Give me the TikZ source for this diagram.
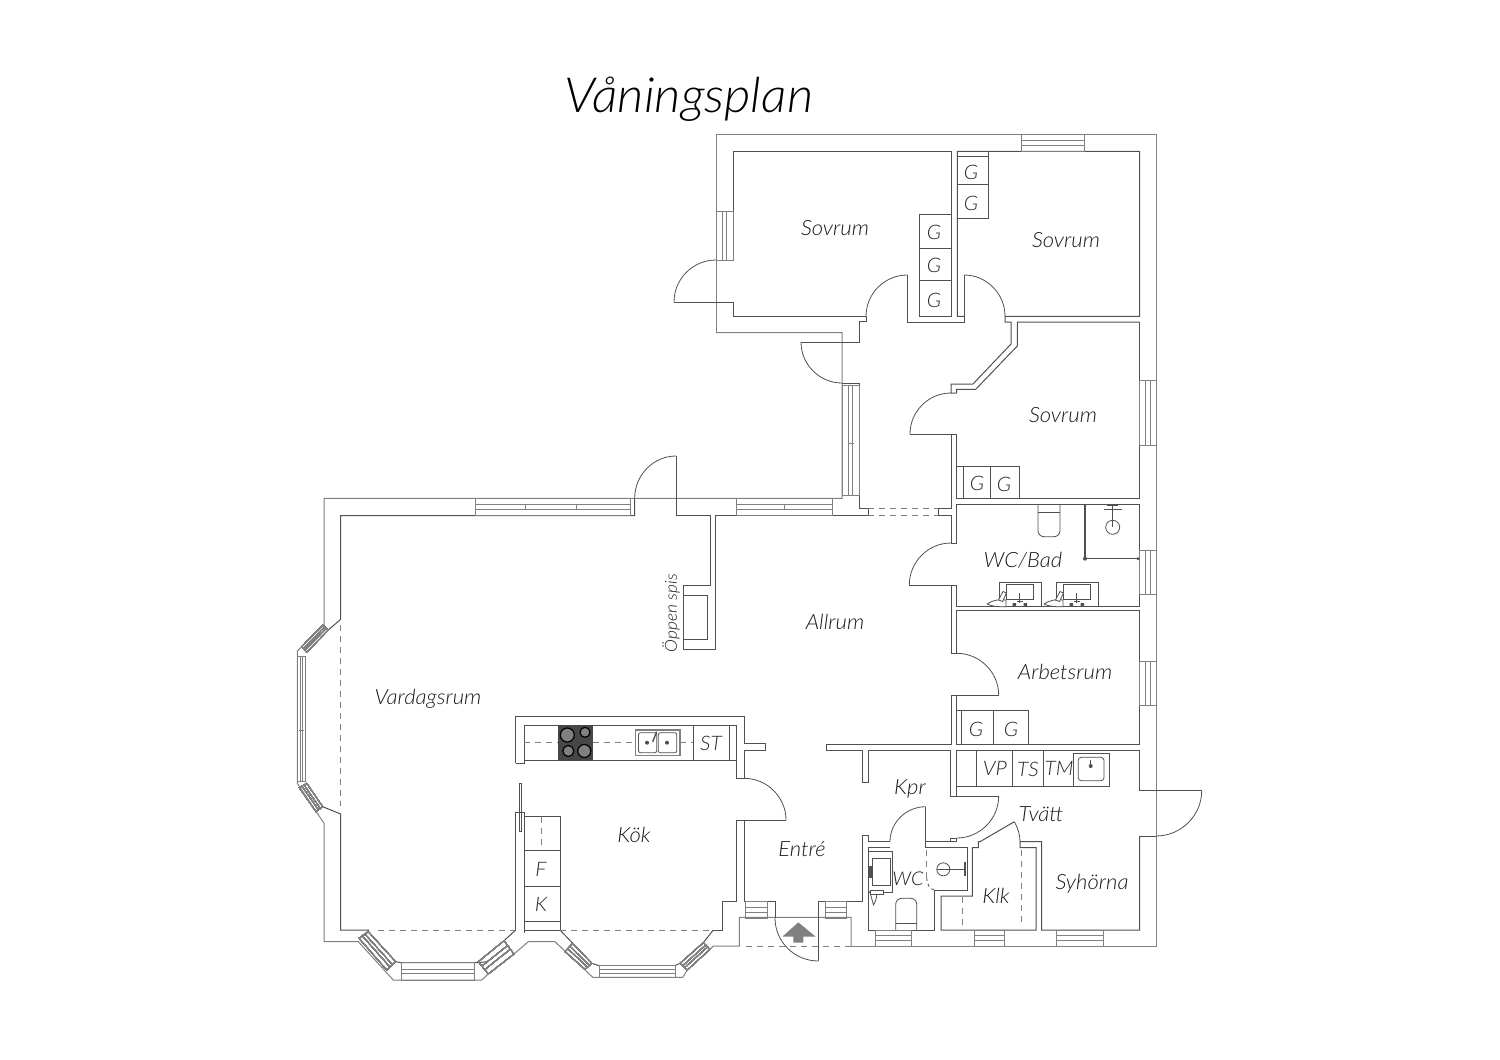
\documentclass[tikz,border=0pt]{standalone}
\usepackage{fontspec}
\setmainfont{Lato Light}[ItalicFont={Lato Light Italic},FakeStretch=1.05]
\usetikzlibrary{calc}
\definecolor{planink}{HTML}{505050}
\definecolor{planpale}{HTML}{808080}
\tikzset{
  wall/.style={draw=planink,line width=1pt,line join=miter},
  shell/.style={draw=planpale,line width=1pt},
  thinline/.style={draw=planink,line width=0.8pt},
  pane/.style={draw=planpale,line width=0.8pt},
  openline/.style={draw=planpale,line width=0.9pt,dash pattern=on 6pt off 5pt},
  roomlabel/.style={font=\itshape\fontsize{21}{21}\selectfont,text=black!90},
  unitlabel/.style={font=\itshape\fontsize{20}{20}\selectfont,text=black!85}
}
\newcommand{\planwindow}[4]{
  \draw[pane] #1 -- #2 -- #3 -- #4 -- cycle;
  \draw[pane] ($#1!.36!#4$) -- ($#2!.36!#3$) -- ($#2!.64!#3$) -- ($#1!.64!#4$) -- cycle;
}
\newcommand{\doorarc}[3]{
  \draw[thinline] #1 .. controls ($#1!.55!#2$) and ($#3!.55!#2$) .. #3;
}
\begin{document}
\begin{tikzpicture}[x=1pt,y=-1pt]
  \useasboundingbox (0,0) rectangle (1500,1060);
  \node[font=\itshape\fontsize{48.5}{48.5}\selectfont,text=black] (titel) at (689,99) {Våningsplan};

  %YTTERVAGG
  \draw[shell] (716,332.7) -- (716,134.5) -- (1156,134.5) -- (1156,946) -- (851,946);
  \draw[shell] (716,332.7) -- (842,332.7) -- (842,498.3) -- (324,498.3) -- (324,625) -- (297.3,651) -- (297.3,783.3) -- (324,823.3) -- (324,941.7) -- (358.3,941.7) -- (393.3,980) -- (481.7,980) -- (488.3,974);
  \draw[shell] (514,954) -- (528.3,941.7) -- (555,941.7) -- (592.7,977.3) -- (682.7,977.3) -- (687.3,970);
  \draw[shell] (710,949.3) -- (713.3,946) -- (739.3,946) -- (739.3,917.3) -- (851,917.3) -- (851,946);

  %INNERVAGGAR, sovrum
  \draw[wall] (674,302) -- (733,302) -- (733,316.3) -- (866,316.3) -- (866,321.5) -- (859,321.5) -- (859,342) -- (801,342);
  \draw[wall] (716,260) -- (733,260) -- (733,151.3) -- (951.7,151.3) -- (951.7,316.3) -- (919.3,316.3) -- (919.3,214.3) -- (951.7,214.3);
  \draw[wall] (907.3,275) -- (907.3,322) -- (964,322) -- (964,275);
  \draw[wall] (964,316.3) -- (957.3,316.3) -- (957.3,151.3) -- (1139.7,151.3) -- (1139.7,316.3) -- (1005,316.3) -- (1005,322) -- (1011,322) -- (1011,344) -- (973,384) -- (951,384) -- (951,393) -- (956.7,393);
  \draw[wall] (1139.7,322) -- (1017.3,322) -- (1017.3,346) -- (975.7,389.3) -- (956.7,389.3) -- (956.7,393);
  \draw[wall] (1139.7,322) -- (1139.7,498.3) -- (956.7,498.3) -- (956.7,434) -- (910,434);
  \draw[wall] (842,383) -- (859,383) -- (859,508) -- (868,508) -- (868,515.7) -- (715,515.7) -- (715,649) -- (683.3,649) -- (683.3,585.7) -- (710,585.7) -- (710,515.7) -- (676,515.7) -- (676,456);
  \draw[wall] (634.7,498.3) -- (634.7,515.7) -- (340.7,515.7) -- (340.7,619.3) -- (328.3,630);
  \draw[wall] (951,434) -- (951,508) -- (938,508) -- (938,515.7) -- (951,515.7) -- (951,543) -- (956.7,543) -- (956.7,504.3) -- (1139.7,504.3) -- (1139.7,606.7) -- (956.7,606.7) -- (956.7,585) -- (909.3,585);
  \draw[wall] (951,585) -- (951,653.3) -- (956.7,653.3) -- (956.7,610.7) -- (1139.7,610.7) -- (1139.7,744.3) -- (956.7,744.3) -- (956.7,695.3);
  \draw[wall] (998.7,695.3) -- (951,695.3) -- (951,744) -- (826,744) -- (826,750) -- (862.3,750) -- (862.3,782.7) -- (868.3,782.7) -- (868.3,750) -- (950.7,750) -- (950.7,796) -- (998.7,796);
  \draw[wall] (956.7,796) -- (956.7,750) -- (1139.5,750) -- (1139.5,790.7) -- (1201.7,790.7);
  \draw[wall] (1139.5,836) -- (1156,836);
  \draw[wall] (1139.5,836) -- (1139.5,930) -- (1041.7,930) -- (1041.7,841.7) -- (1020,841.7) -- (1020,847.7) -- (1036,847.7) -- (1036,930) -- (941,930) -- (941,896) -- (972.3,896) -- (972.3,847.7) -- (978.3,847.7) -- (978.3,841.7) -- (980,841.7) -- (1014.3,821.7);
  \draw[wall] (956.7,838) -- (956.7,841.7) -- (950.7,841.7) -- (950.7,838) -- (956.7,838);
  \draw[wall] (950.7,841.7) -- (925.7,841.7) -- (925.7,806.7);
  \draw[wall] (925.7,847.7) -- (967.3,847.7) -- (967.3,890) -- (934.3,890) -- (934.3,930) -- (868.3,930) -- (868.3,847.7) -- (890,847.7);
  \draw[wall] (925.7,841.7) -- (925.7,847.7);
  \draw[wall] (890,841.7) -- (868.3,841.7) -- (868.3,835) -- (862.3,835) -- (862.3,901.7) -- (818.3,901.7) -- (818.3,961);
  \draw[wall] (775,918) -- (775,901.7) -- (744.3,901.7) -- (744.3,820.7);

  %KOK
  \draw[wall] (515.7,930) -- (515.7,812.7) -- (524.3,812.7) -- (524.3,933);
  \draw[wall] (524.3,816.7) -- (560,816.7) -- (560,930) -- (524.3,930);
  \draw[wall] (524.3,850.7) -- (560,850.7) (524.3,886) -- (560,886) (524.3,921.7) -- (560,921.7);
  \draw[wall] (515.7,763.3) -- (515.7,716.7) -- (744.3,716.7) -- (744.3,743.3) -- (765.7,743.3) -- (765.7,750) -- (744.3,750) -- (744.3,778.3) -- (736.3,778.3) -- (736.3,725) -- (524,725) -- (524,763.3) -- (515.7,763.3);
  \draw[wall] (524,760.7) -- (736.3,760.7);
  \draw[wall] (693.3,725) -- (693.3,760.7) (729.3,725) -- (729.3,760.7);
  \draw[wall] (786,820) -- (736.3,820) -- (736.3,901) -- (722.7,901) -- (722.7,930) -- (713.3,930);
  \draw[wall] (713.3,930) -- (703.3,942.7) (680,963.3) -- (675,965.7) (599.3,965.7) -- (591.7,963.3) (572.7,943.3) -- (560,930);
  \draw[wall] (515.7,930) -- (504,940.7) (488.3,961.7) -- (475,962.7) -- (401.7,962.7) -- (395.7,961.7);
  \draw[wall] (359,938.3) -- (368.3,931) -- (368.3,930) -- (340.7,930) -- (340.7,814) -- (322.7,806.7);
  \draw[thinline] (519,783.3) rectangle (521,831.7);

  %OPPEN SPIS
  \draw[thinline] (683.3,595.7) -- (707.7,595.7) -- (707.7,639) -- (683.3,639);

  %UTRYMMEN vid entren
  \draw[wall] (956.7,786) -- (1109,786) -- (1109,753.3) -- (1073.3,753.3) -- (1073.3,786);
  \draw[wall] (976.7,750) -- (976.7,786) (1012.3,750) -- (1012.3,786) (1043.3,750) -- (1043.3,786);
  \draw[thinline,rounded corners=3pt] (1078.3,757.3) rectangle (1104,780.7);
  \draw[thinline] (1090.7,760) -- (1090.7,766);
  \fill[planink] (1090.7,766) circle (2pt);

  %GARDEROBER
  \draw[wall] (957.3,156) -- (988,156) (988,151.3) -- (988,218) -- (957.3,218) (957.3,184) -- (988,184);
  \draw[wall] (919.3,248) -- (951.7,248) (919.3,280) -- (951.7,280);
  \draw[wall] (956.7,466) -- (1019.3,466) -- (1019.3,498.3) (963,466) -- (963,498.3) (990.7,466) -- (990.7,498.3);
  \draw[wall] (956.7,710) -- (1028.7,710) -- (1028.7,744.3) (961.7,710) -- (961.7,744.3) (993,710) -- (993,744.3);

  %DORRAR
  \doorarc{(674,302)}{(674,260)}{(716,260)}
  \doorarc{(866,316.3)}{(866,275)}{(907.3,275)}
  \doorarc{(964,275)}{(1005,275)}{(1005,316.3)}
  \doorarc{(801,342)}{(801,383)}{(842,383)}
  \doorarc{(910,434)}{(910,393)}{(951,393)}
  \doorarc{(634.7,498.3)}{(634.7,456)}{(676,456)}
  \doorarc{(909.3,585)}{(909.3,543)}{(951,543)}
  \doorarc{(956.7,653.3)}{(998.7,653.3)}{(998.7,695.3)}
  \doorarc{(744,778.3)}{(786,778.3)}{(786,820)}
  \doorarc{(998.7,796)}{(998.7,838)}{(956.7,838)}
  \doorarc{(925.7,806.7)}{(890,806.7)}{(890,841.7)}
  \doorarc{(1201.7,790.7)}{(1201.7,836)}{(1156,836)}
  \doorarc{(775,918)}{(775,961)}{(818.3,961)}
  \draw[thinline] (1014.3,821.7) .. controls (1018,828) and (1020,835) .. (1020,841.7);

  %FONSTER
  \foreach \xa/\xb in {1021.3/1084}
    \planwindow{(\xa,134.5)}{(\xb,134.5)}{(\xb,151.3)}{(\xa,151.3)}
  \foreach \xa/\xb in {475/630,736/832.7}
    \planwindow{(\xa,498.3)}{(\xb,498.3)}{(\xb,515.7)}{(\xa,515.7)}
  \foreach \xa/\xb in {875/911.7,974/1004,1056.7/1103.3}
    \planwindow{(\xa,930)}{(\xb,930)}{(\xb,946)}{(\xa,946)}
  \foreach \xa/\xb in {745.7/767.7,825/846.7}
    \planwindow{(\xa,901.7)}{(\xb,901.7)}{(\xb,918)}{(\xa,918)}
  \foreach \ya/\yb in {380.7/445.7,550/594,661.3/705.3}
    \planwindow{(1139.7,\ya)}{(1139.7,\yb)}{(1156,\yb)}{(1156,\ya)}
  \planwindow{(716,211)}{(716,260)}{(733,260)}{(733,211)}
  \planwindow{(842,385)}{(842,495)}{(859,495)}{(859,385)}
  \planwindow{(297.3,656.7)}{(297.3,781.7)}{(305.7,781.7)}{(305.7,656.7)}
  \planwindow{(401.7,962.7)}{(474.3,962.7)}{(474.3,980)}{(401.7,980)}
  \planwindow{(599.3,965.7)}{(675,965.7)}{(675,977.3)}{(599.3,977.3)}
  \planwindow{(322.7,625)}{(301.7,646.7)}{(306.7,652.3)}{(328.3,630)}
  \planwindow{(316,811.7)}{(299.3,787.7)}{(306.7,783.3)}{(322.7,806.7)}
  \planwindow{(368.3,931.7)}{(395.7,961.7)}{(386.7,970)}{(359,938.3)}
  \planwindow{(478.3,961.7)}{(504,940.7)}{(514,954)}{(488.3,974)}
  \planwindow{(572.7,943.3)}{(591.7,963.3)}{(585,969.3)}{(565,951.7)}
  \planwindow{(680,963.3)}{(703.3,942.7)}{(710,949.3)}{(687.3,970)}
  \draw[pane] (525.7,505) -- (525.7,509) (576.7,505) -- (576.7,509) (784,505) -- (784,509);
  \draw[pane] (847.7,443) -- (853.7,443) (299.3,730) -- (304,730);

  %OPPNINGAR
  \draw[openline] (868,508) -- (938,508) (868,515.7) -- (938,515.7);
  \draw[openline] (340.7,625) -- (340.7,806);
  \draw[openline] (378,930) -- (515,930) (560,930) -- (713,930);
  \draw[openline] (524,742.7) -- (558,742.7) (593.3,742.7) -- (635,742.7) (680,742.7) -- (693,742.7);
  \draw[openline] (541.7,816.7) -- (541.7,846.7);
  \draw[openline] (746,946) -- (851,946);
  \draw[openline] (926.7,850) -- (926.7,878);
  \draw[thinline,dashed] (926.7,878) .. controls (927,885) and (930,889) .. (934.3,890);
  \draw[openline] (1021.7,850) -- (1021.7,926.7) (962.7,896.7) -- (962.7,926.7);

  %HALL PIL
  \fill[planpale] (798.3,922.3) -- (815.7,936.7) -- (803.3,936.7) -- (803.3,942.7) -- (793.3,942.7) -- (793.3,936.7) -- (782.3,936.7) -- cycle;

  %SPIS, DISKHO
  \fill[black!72] (558.3,725) rectangle (593.3,760.7);
  \foreach \x/\y/\r in {567.3/735/7,585/732.3/5,568.3/751/5.5,584.3/751/6.5} {
    \draw[black,line width=1.2pt,fill=black!50] (\x,\y) circle (\r pt);
  }
  \draw[pane,fill=white,line width=1.4pt] (635.7,730) rectangle (680,755.3);
  \draw[thinline,rounded corners=2pt] (638.5,732.7) rectangle (656.7,752.7);
  \draw[thinline,rounded corners=2pt] (658.3,732.7) rectangle (676.7,752.7);
  \fill[planink] (647,742.7) circle (2pt) (667,742.7) circle (2pt);
  \draw[planink,line width=1.4pt] (656.7,731.7) -- (652.7,741.7);

  %BADRUM
  \draw[planink,line width=1.5pt] (1085,504.3) -- (1085,558.7) -- (1139.7,558.7);
  \fill[planink] (1085,558.7) circle (2pt) (1138,558.7) circle (1.6pt) (1085,505) circle (1.4pt);
  \draw[thinline] (1112.7,527.3) circle (7pt);
  \draw[thinline] (1112.7,505) -- (1112.7,527.3) (1104,509) -- (1122,509) (1107,505) -- (1118,505);
  \draw[thinline,rounded corners=6pt] (1038,504.3) -- (1038,536.7) -- (1060,536.7) -- (1060,504.3);
  \draw[thinline] (1038,512) -- (1060,512);
  \foreach \dx in {0,57} {
    \begin{scope}[xshift=\dx pt]
      \draw[thinline] (999,606.7) -- (999,582.7) -- (1041,582.7) -- (1041,606.7);
      \draw[thinline] (1006,584.7) rectangle (1033.3,599.3);
      \draw[thinline] (1019.7,593.3) -- (1019.7,603) (1017,601) -- (1022.5,601);
      \fill[planink] (1012.5,603) rectangle (1016,606) (1023.5,603) rectangle (1027,606);
      \draw[thinline,fill=white] (987,604) .. controls (993,600) and (1000,599) .. (1006,600) -- (1006,606.7) .. controls (999,607) and (992,606.5) .. (987,604);
      \draw[thinline,fill=white] (998.5,600) -- (1003,591.5) -- (1006.5,593) -- (1002.5,601.5) -- cycle;
    \end{scope}
  }

  %WC
  \draw[thinline] (943.3,869.3) circle (6.5pt);
  \draw[thinline] (936.8,869.3) -- (965,869.3);
  \draw[planink,line width=1.6pt] (965,862) -- (965,876);
  \draw[thinline] (868.3,851.7) rectangle (892.3,892.7);
  \draw[thinline] (872.7,858.3) rectangle (890,885);
  \fill[planink] (868.5,866) rectangle (872,878);
  \draw[thinline,fill=white] (870,891) .. controls (871,898) and (873,902) .. (873.5,905) .. controls (876,901) and (877,896) .. (877,891) -- cycle;
  \draw[thinline,fill=white] (870,890) rectangle (883,894);
  \draw[thinline,rounded corners=6pt] (895.7,930) -- (895.7,898.3) -- (916.7,898.3) -- (916.7,930);
  \draw[thinline] (895.7,923.3) -- (916.7,923.3);

  %RUM
  \node[roomlabel] (sovruma) at (835,228) {Sovrum};
  \node[roomlabel] (sovrumb) at (1066,240) {Sovrum};
  \node[roomlabel] (sovrumc) at (1063,415) {Sovrum};
  \node[roomlabel] (allrum) at (835,622) {Allrum};
  \node[roomlabel] (wcbad) at (1023,560) {WC/Bad};
  \node[roomlabel] (arbetsrum) at (1065,672) {Arbetsrum};
  \node[roomlabel] (vardagsrum) at (428,699) {Vardagsrum};
  \node[roomlabel] (kok) at (634,835) {Kök};
  \node[roomlabel] (entre) at (802,849) {Entré};
  \node[roomlabel] (kpr) at (910,789) {Kpr};
  \node[roomlabel] (tvatt) at (1041,814) {Tvätt};
  \node[roomlabel,font=\itshape\fontsize{19}{19}\selectfont] (wc) at (908,879) {WC};
  \node[roomlabel] (syhorna) at (1092,884) {Syhörna};
  \node[roomlabel] (klk) at (996,896) {Klk};
  \node[roomlabel,rotate=90,font=\itshape\fontsize{16.5}{16.5}\selectfont] (spis) at (671,613) {Öppen spis};

  %G
  \foreach \name/\x/\y in {ga/971/172,gb/971/203,gc/934/232,gd/934/265,ge/934/300,gf/977/483,gg/1004/484,gh/976/729,gi/1011/729} {
    \node[unitlabel] (\name) at (\x,\y) {G};
  }
  \node[unitlabel] (st) at (711,743) {ST};
  \node[unitlabel] (vp) at (995,768) {VP};
  \node[unitlabel] (ts) at (1028,769) {TS};
  \node[unitlabel] (tm) at (1059,768) {TM};
  \node[unitlabel] (frys) at (541,869) {F};
  \node[unitlabel] (kyl) at (541,904) {K};
\end{tikzpicture}
\end{document}
